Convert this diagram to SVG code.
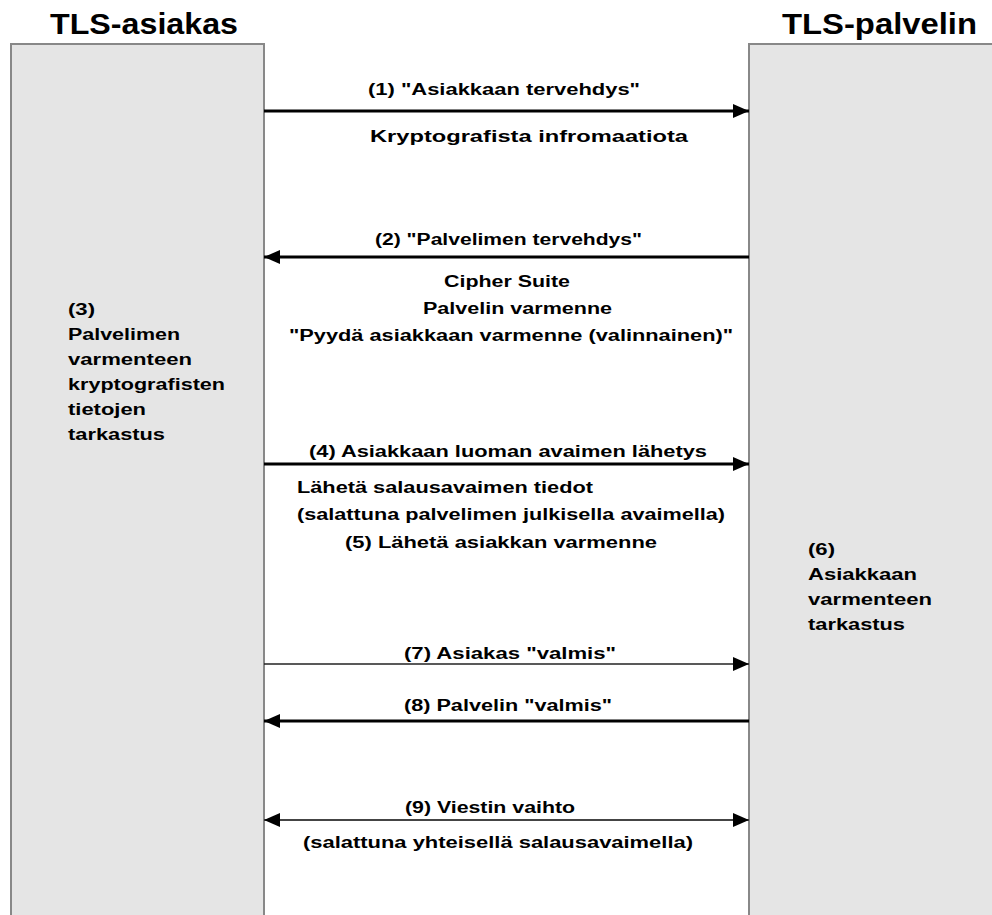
<svg xmlns="http://www.w3.org/2000/svg" width="992" height="915" viewBox="0 0 992 915">
<style>
.box{fill:#e5e5e5;stroke:#888888;stroke-width:2}
.title{font-family:"Liberation Sans",Arial,sans-serif;font-weight:bold;font-size:29px;fill:#000}
.lbl{font-family:"Liberation Sans",Arial,sans-serif;font-weight:bold;font-size:16px;fill:#000}
.lbl2{font-family:"Liberation Sans",Arial,sans-serif;font-weight:bold;font-size:17px;fill:#000}
.thick{stroke:#000;stroke-width:3;fill:none}
.thin{stroke:#222;stroke-width:1.5;fill:none}
.thin2{stroke:#444;stroke-width:2;fill:none}
</style>
<defs>
<marker id="ah" markerUnits="userSpaceOnUse" markerWidth="16" markerHeight="16" refX="16" refY="8" orient="auto">
<path d="M0,1 L16,8 L0,15 z" fill="#000"/>
</marker>
<marker id="ahs" markerUnits="userSpaceOnUse" markerWidth="16" markerHeight="16" refX="0" refY="8" orient="auto">
<path d="M16,1 L0,8 L16,15 z" fill="#000"/>
</marker>
</defs>
<rect width="992" height="915" fill="#fff"/>

<g id="client">
<rect class="box" x="11" y="44" width="253" height="880"/>
<text class="title" x="50" y="34" textLength="188" lengthAdjust="spacingAndGlyphs">TLS-asiakas</text>
<text class="lbl" x="68" y="315" textLength="27" lengthAdjust="spacingAndGlyphs">(3)</text>
<text class="lbl" x="68" y="340" textLength="112" lengthAdjust="spacingAndGlyphs">Palvelimen</text>
<text class="lbl" x="68" y="365" textLength="124" lengthAdjust="spacingAndGlyphs">varmenteen</text>
<text class="lbl" x="68" y="390" textLength="157" lengthAdjust="spacingAndGlyphs">kryptografisten</text>
<text class="lbl" x="68" y="415" textLength="78" lengthAdjust="spacingAndGlyphs">tietojen</text>
<text class="lbl" x="68" y="440" textLength="97" lengthAdjust="spacingAndGlyphs">tarkastus</text>
</g>

<g id="server">
<rect class="box" x="749" y="44" width="260" height="880"/>
<text class="title" x="782" y="34" textLength="195" lengthAdjust="spacingAndGlyphs">TLS-palvelin</text>
<text class="lbl" x="808" y="555" textLength="27" lengthAdjust="spacingAndGlyphs">(6)</text>
<text class="lbl" x="808" y="580" textLength="109" lengthAdjust="spacingAndGlyphs">Asiakkaan</text>
<text class="lbl" x="808" y="605" textLength="124" lengthAdjust="spacingAndGlyphs">varmenteen</text>
<text class="lbl" x="808" y="630" textLength="97" lengthAdjust="spacingAndGlyphs">tarkastus</text>
</g>

<g id="connectors">
<line class="thick" x1="264" y1="111" x2="749" y2="111" marker-end="url(#ah)"/>
<line class="thick" x1="749" y1="257" x2="264" y2="257" marker-end="url(#ah)"/>
<line class="thick" x1="264" y1="464" x2="749" y2="464" marker-end="url(#ah)"/>
<line class="thin" x1="264" y1="664" x2="749" y2="664" marker-end="url(#ah)"/>
<line class="thick" x1="749" y1="721" x2="264" y2="721" marker-end="url(#ah)"/>
<line class="thin2" x1="264" y1="820" x2="749" y2="820" marker-start="url(#ahs)" marker-end="url(#ah)"/>
</g>

<g id="labels">
<text class="lbl" x="368" y="95" textLength="272" lengthAdjust="spacingAndGlyphs">(1) "Asiakkaan tervehdys"</text>
<text class="lbl2" x="370" y="142" textLength="318" lengthAdjust="spacingAndGlyphs">Kryptografista infromaatiota</text>
<text class="lbl" x="375" y="245" textLength="267" lengthAdjust="spacingAndGlyphs">(2) "Palvelimen tervehdys"</text>
<text class="lbl" x="444" y="287" textLength="126" lengthAdjust="spacingAndGlyphs">Cipher Suite</text>
<text class="lbl" x="423" y="314" textLength="189" lengthAdjust="spacingAndGlyphs">Palvelin varmenne</text>
<text class="lbl" x="289" y="341" textLength="444" lengthAdjust="spacingAndGlyphs">"Pyydä asiakkaan varmenne (valinnainen)"</text>
<text class="lbl" x="309" y="457" textLength="398" lengthAdjust="spacingAndGlyphs">(4) Asiakkaan luoman avaimen lähetys</text>
<text class="lbl" x="297" y="493" textLength="296" lengthAdjust="spacingAndGlyphs">Lähetä salausavaimen tiedot</text>
<text class="lbl" x="297" y="520" textLength="428" lengthAdjust="spacingAndGlyphs">(salattuna palvelimen julkisella avaimella)</text>
<text class="lbl" x="345" y="548" textLength="312" lengthAdjust="spacingAndGlyphs">(5) Lähetä asiakkan varmenne</text>
<text class="lbl" x="404" y="659" textLength="212" lengthAdjust="spacingAndGlyphs">(7) Asiakas "valmis"</text>
<text class="lbl" x="404" y="711" textLength="208" lengthAdjust="spacingAndGlyphs">(8) Palvelin "valmis"</text>
<text class="lbl" x="405" y="813" textLength="170" lengthAdjust="spacingAndGlyphs">(9) Viestin vaihto</text>
<text class="lbl" x="303" y="848" textLength="390" lengthAdjust="spacingAndGlyphs">(salattuna yhteisellä salausavaimella)</text>
</g>
</svg>
